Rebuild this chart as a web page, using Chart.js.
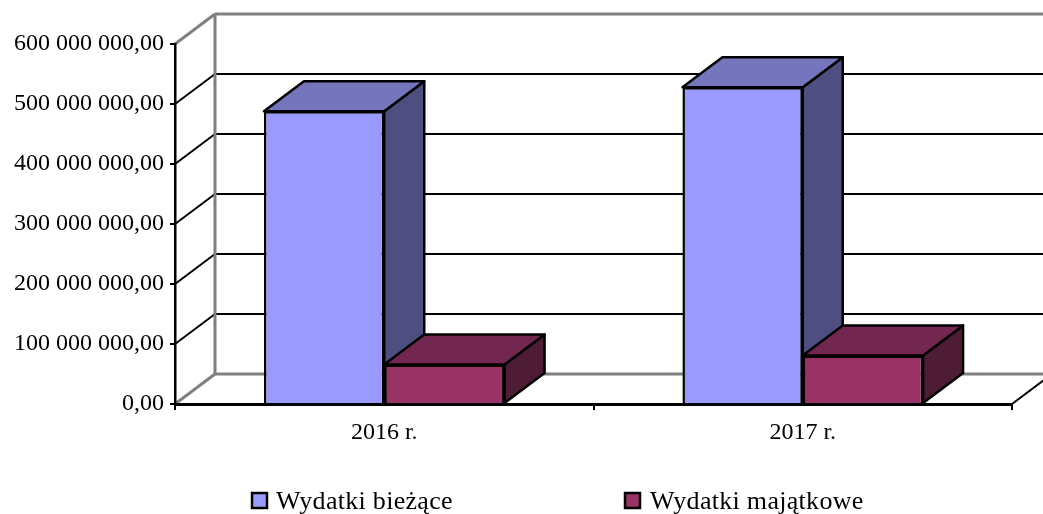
<!DOCTYPE html>
<html>
<head>
<meta charset="utf-8">
<style>
  html, body { margin: 0; padding: 0; background: #fff; }
  #wrap { width: 1043px; height: 514px; }
</style>
<script src="https://cdn.jsdelivr.net/npm/chart.js@4"></script>
</head>
<body>
<div id="wrap"><canvas id="chart" width="1043" height="514"></canvas></div>
<script>
const categories = ['2016 r.', '2017 r.'];
const wydatkiBiezace = [488000000, 528000000];
const wydatkiMajatkowe = [66000000, 81000000];
const seriesNames = ['Wydatki bieżące', 'Wydatki majątkowe'];
const tickLabels = ['0,00', '100 000 000,00', '200 000 000,00', '300 000 000,00', '400 000 000,00', '500 000 000,00', '600 000 000,00'];

const fontFamily = '"Liberation Serif", serif';
const depthX = 40;
const depthY = -30;
const faceColors = ['#9999FF', '#993366'];
const topColors = ['#7575BE', '#732750'];
const sideColors = ['#4E4E80', '#4E1C35'];

function poly(ctx, pts, fill, stroke) {
  ctx.beginPath();
  pts.forEach(function (p, i) {
    if (i === 0) ctx.moveTo(p[0], p[1]); else ctx.lineTo(p[0], p[1]);
  });
  ctx.closePath();
  ctx.fillStyle = fill;
  ctx.fill();
  ctx.strokeStyle = stroke;
  ctx.lineWidth = 2.5;
  ctx.stroke();
}

function line(ctx, x1, y1, x2, y2, color, width) {
  ctx.beginPath();
  ctx.moveTo(x1, y1);
  ctx.lineTo(x2, y2);
  ctx.strokeStyle = color;
  ctx.lineWidth = width;
  ctx.stroke();
}

// back wall, floor and the gridlines
const wallPlugin = {
  id: 'walls',
  beforeDraw: function (chart) {
    const ctx = chart.ctx;
    const x = chart.scales.x;
    const y = chart.scales.y;
    const backLeft = x.left + depthX;
    const backRight = chart.width + 5;
    ctx.save();
    tickLabels.forEach(function (label, i) {
      const py = y.getPixelForValue(i * 100000000);
      const edge = i === 0 || i === tickLabels.length - 1;
      const color = edge ? '#808080' : '#000000';
      const width = edge ? 3 : 2;
      line(ctx, x.left, py, backLeft, py + depthY, color, width);
      line(ctx, backLeft, py + depthY, backRight, py + depthY, color, width);
    });
    line(ctx, backLeft, y.bottom + depthY, backLeft, y.top + depthY, '#808080', 3);
    line(ctx, x.right, y.bottom, x.right + depthX, y.bottom + depthY, '#000000', 2);
    ctx.restore();
  }
};

// top and side of each bar, the front faces come from the bar datasets
const depthPlugin = {
  id: 'depth',
  beforeDatasetsDraw: function (chart) {
    const ctx = chart.ctx;
    ctx.save();
    ctx.lineJoin = 'round';
    chart.data.datasets.forEach(function (ds, d) {
      chart.getDatasetMeta(d).data.forEach(function (bar) {
        const p = bar.getProps(['x', 'y', 'base', 'width'], true);
        const l = p.x - p.width / 2;
        const r = p.x + p.width / 2;
        poly(ctx, [[r, p.y], [r + depthX, p.y + depthY], [r + depthX, p.base + depthY], [r, p.base]], sideColors[d], '#000');
        poly(ctx, [[l, p.y], [l + depthX, p.y + depthY], [r + depthX, p.y + depthY], [r, p.y]], topColors[d], '#000');
      });
    });
    ctx.restore();
  }
};

const legendPlugin = {
  id: 'legendRow',
  afterDraw: function (chart) {
    const ctx = chart.ctx;
    const boxX = [252, 625];
    const textX = [276, 650];
    ctx.save();
    ctx.font = '26px ' + fontFamily;
    ctx.letterSpacing = '0.3px';
    ctx.textBaseline = 'alphabetic';
    seriesNames.forEach(function (name, i) {
      ctx.fillStyle = faceColors[i];
      ctx.fillRect(boxX[i], 493, 15, 15);
      ctx.strokeStyle = '#000';
      ctx.lineWidth = 2.5;
      ctx.strokeRect(boxX[i], 493, 15, 15);
      ctx.fillStyle = '#000';
      ctx.fillText(name, textX[i], 509);
    });
    ctx.restore();
  }
};

new Chart(document.getElementById('chart').getContext('2d'), {
  type: 'bar',
  data: {
    labels: categories,
    datasets: [
      { label: seriesNames[0], data: wydatkiBiezace, backgroundColor: faceColors[0], borderColor: '#000', borderWidth: 2.5 },
      { label: seriesNames[1], data: wydatkiMajatkowe, backgroundColor: faceColors[1], borderColor: '#000', borderWidth: 2.5 }
    ]
  },
  options: {
    responsive: false,
    animation: false,
    layout: { padding: { top: 44, right: 31, bottom: 0, left: 0 } },
    plugins: { legend: { display: false }, tooltip: { enabled: false } },
    datasets: { bar: { barPercentage: 1, categoryPercentage: 0.575 } },
    scales: {
      x: {
        afterFit: function (scale) { scale.height = 110; },
        grid: { drawOnChartArea: false, color: '#000', lineWidth: 2, tickLength: 6 },
        border: { color: '#000', width: 3 },
        ticks: { color: '#000', padding: 8, maxRotation: 0, font: { family: fontFamily, size: 24 } }
      },
      y: {
        min: 0,
        max: 600000000,
        afterFit: function (scale) { scale.width = 175; },
        grid: { drawOnChartArea: false, color: '#000', lineWidth: 2, tickLength: 5 },
        border: { color: '#000', width: 2.5 },
        ticks: {
          stepSize: 100000000,
          color: '#000',
          padding: 6,
          font: { family: fontFamily, size: 24 },
          callback: function (value) { return tickLabels[Math.round(value / 100000000)]; }
        }
      }
    }
  },
  plugins: [wallPlugin, depthPlugin, legendPlugin]
});
</script>
</body>
</html>
